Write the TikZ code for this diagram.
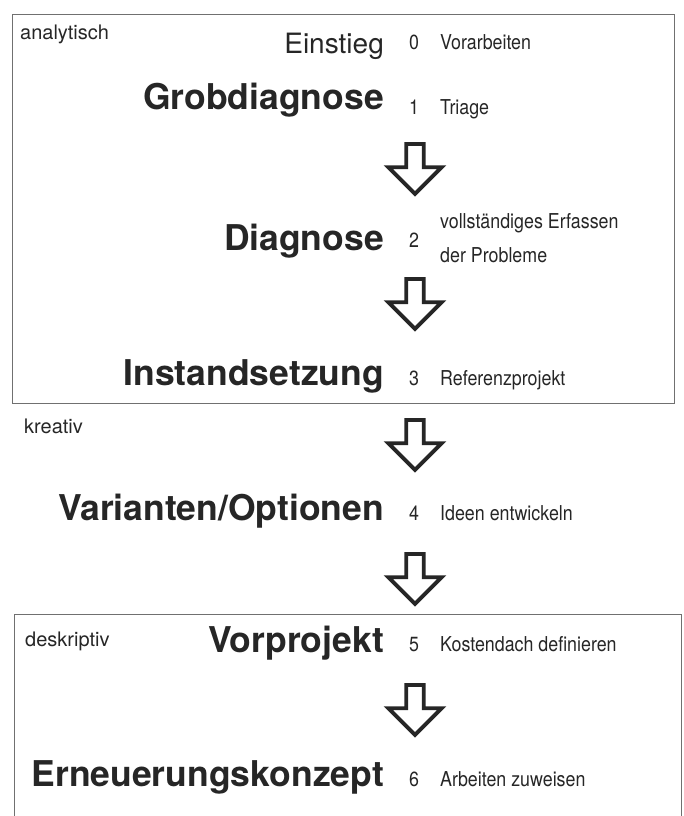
\documentclass[tikz,border=0pt]{standalone}
\usepackage{fontspec}
\setmainfont{TeX Gyre Heros}
\newfontfamily\narrowfont[FakeStretch=0.87]{TeX Gyre Heros}
\usetikzlibrary{shapes.arrows}
\definecolor{ink}{HTML}{262626}
\definecolor{frame}{HTML}{707070}
\tikzset{
  heading/.style={anchor=base east, inner sep=0pt, text=ink, font=\bfseries\fontsize{35.5}{40}\selectfont},
  lightheading/.style={anchor=base east, inner sep=0pt, text=ink, font=\fontsize{28}{32}\selectfont},
  num/.style={anchor=base, inner sep=0pt, text=ink, font=\narrowfont\fontsize{20.5}{24}\selectfont},
  desc/.style={anchor=base west, inner sep=0pt, text=ink, font=\narrowfont\fontsize{20.5}{24}\selectfont},
  tag/.style={anchor=base west, inner sep=0pt, text=ink, font=\fontsize{20}{24}\selectfont},
  blockarr/.style={single arrow, draw=ink, fill=white, line width=3.8pt, rotate=-90,
    inner xsep=0pt, inner ysep=6.8pt, minimum height=50pt, single arrow head extend=18pt,
    single arrow tip angle=90, anchor=tail},
  boxline/.style={draw=frame, line width=1pt}
}
\begin{document}
\begin{tikzpicture}[x=1pt,y=-1pt]
\useasboundingbox (0,0) rectangle (684,816);
% frames
\draw[boxline] (12,15) rectangle (674,403);
\draw[boxline] (14,816) -- (14,614) -- (681,614) -- (681,816);
% tags
\node[tag] (tA) at (20,40) {analytisch};
\node[tag] (tK) at (24,433) {kreativ};
\node[tag] (tD) at (25,646) {deskriptiv};
% row 0
\node[lightheading] (h0) at (384,54) {Einstieg};
\node[num] (n0) at (414,50) {0};
\node[desc] (d0) at (440,50) {Vorarbeiten};
% row 1
\node[heading] (h1) at (384,109) {Grobdiagnose};
\node[num] (n1) at (414,114) {1};
\node[desc] (d1) at (440,114) {Triage};
% row 2
\node[heading] (h2) at (384,250) {Diagnose};
\node[num] (n2) at (414,247) {2};
\node[desc] (d2a) at (440,228) {vollständiges Erfassen};
\node[desc] (d2b) at (440,262) {der Probleme};
% row 3
\node[heading] (h3) at (384,385) {Instandsetzung};
\node[num] (n3) at (414,385) {3};
\node[desc] (d3) at (440,385) {Referenzprojekt};
% row 4
\node[heading] (h4) at (384,520) {Varianten/Optionen};
\node[num] (n4) at (414,520) {4};
\node[desc] (d4) at (440,520) {Ideen entwickeln};
% row 5
\node[heading] (h5) at (384,652) {Vorprojekt};
\node[num] (n5) at (414,651) {5};
\node[desc] (d5) at (440,651) {Kostendach definieren};
% row 6
\node[heading] (h6) at (384,786) {Erneuerungskonzept};
\node[num] (n6) at (414,786) {6};
\node[desc] (d6) at (440,786) {Arbeiten zuweisen};
% arrows
\node[blockarr] (a1) at (415,142) {};
\node[blockarr] (a2) at (415,277) {};
\node[blockarr] (a3) at (415,418) {};
\node[blockarr] (a4) at (415,552) {};
\node[blockarr] (a5) at (415,683) {};
\end{tikzpicture}
\end{document}
